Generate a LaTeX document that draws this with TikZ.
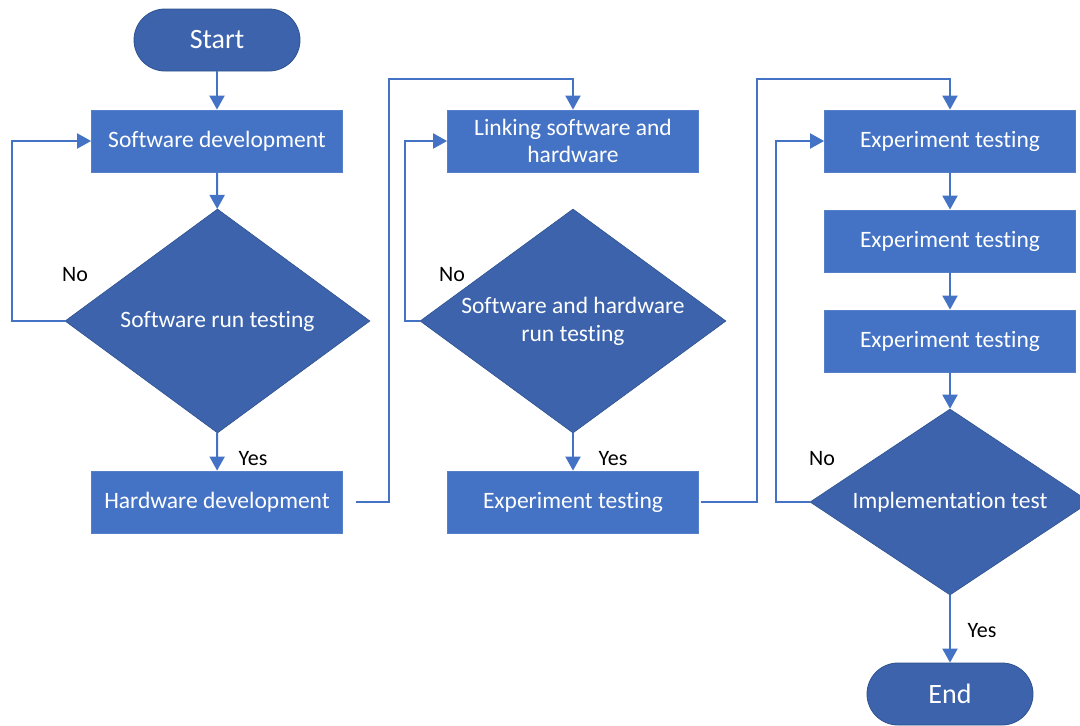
\documentclass[tikz,border=0pt]{standalone}
\usepackage{fontspec}
\setmainfont[RawFeature=-liga]{Carlito}
\usetikzlibrary{shapes.geometric,arrows.meta}
\definecolor{boxblue}{HTML}{4472C4}
\definecolor{darkblue}{HTML}{3C63AC}
\definecolor{edgeblue}{HTML}{2F528F}
\definecolor{lineblue}{HTML}{4472C4}
\tikzset{
  procbox/.style={rectangle, fill=boxblue, draw=boxblue!90!white, line width=0.8pt, minimum width=251pt, minimum height=62pt, inner sep=0pt, text=white, font=\fontsize{23.5}{27}\selectfont, align=center},
  decision/.style={diamond, fill=darkblue, draw=edgeblue, line width=0.6pt, inner sep=0pt, text=white, font=\fontsize{23.5}{28}\selectfont, align=center},
  terminal/.style={rectangle, rounded corners=31pt, fill=darkblue, draw=edgeblue, line width=0.8pt, minimum width=166pt, minimum height=62pt, inner sep=0pt, text=white, font=\fontsize{28}{32}\selectfont},
  lbl/.style={font=\fontsize{22}{24}\selectfont, text=black, inner sep=0pt},
  conn/.style={draw=lineblue, line width=2pt, -{Triangle[length=14pt,width=15pt]}},
  plain/.style={draw=lineblue, line width=2pt}
}
\begin{document}
\begin{tikzpicture}[x=1pt,y=-1pt]
\clip (0,0) rectangle (1080,726);
\fill[white] (0,0) rectangle (1080,726);
% column 1
\node[terminal] (start) at (217,40) {Start};
\node[procbox] (sd) at (217,141) {Software development};
\node[decision, minimum width=305pt, minimum height=224pt, aspect=1.36] (d1) at (217.5,321) {Software run testing};
\node[procbox] (hd) at (217,502) {Hardware development};
% column 2
\node[procbox] (link) at (573,141) {Linking software and\\hardware};
\node[decision, minimum width=306pt, minimum height=224pt, aspect=1.37] (d2) at (573,321) {Software and hardware\\run testing};
\node[procbox] (et0) at (573,502) {Experiment testing};
% column 3
\node[procbox] (e1) at (950,141) {Experiment testing};
\node[procbox] (e2) at (950,241) {Experiment testing};
\node[procbox] (e3) at (950,341) {Experiment testing};
\node[decision, minimum width=280pt, minimum height=186pt, aspect=1.5] (d3) at (950,502) {Implementation test};
\node[terminal] (end) at (950,694) {End};
% labels
\node[lbl] (no1) at (75,275) {No};
\node[lbl] (yes1) at (253,459) {Yes};
\node[lbl] (no2) at (452,275) {No};
\node[lbl] (yes2) at (613,459) {Yes};
\node[lbl] (no3) at (822,459) {No};
\node[lbl] (yes3) at (982,631) {Yes};
% helper coordinates
\coordinate (c1) at (389,79);
\coordinate (c2) at (757,79);
% connectors
\draw[conn] (start) -- (sd);
\draw[conn] (sd) -- (d1);
\draw[conn] (d1.west) -- ++(-53,0) |- (sd.west);
\draw[conn] (d1) -- (hd);
\draw[conn] ([xshift=13pt]hd.east) -| (c1) -| (link.north);
\draw[conn] (d2.west) -- ++(-15,0) |- (link.west);
\draw[conn] (d2) -- (et0);
\draw[conn] ([xshift=2pt]et0.east) -| (c2) -| (e1.north);
\draw[conn] (e1) -- (e2);
\draw[conn] (e2) -- (e3);
\draw[conn] (e3) -- (d3);
\draw[conn] (d3.west) -- ++(-34,0) |- (e1.west);
\draw[conn] (d3) -- (end);
\end{tikzpicture}
\end{document}
